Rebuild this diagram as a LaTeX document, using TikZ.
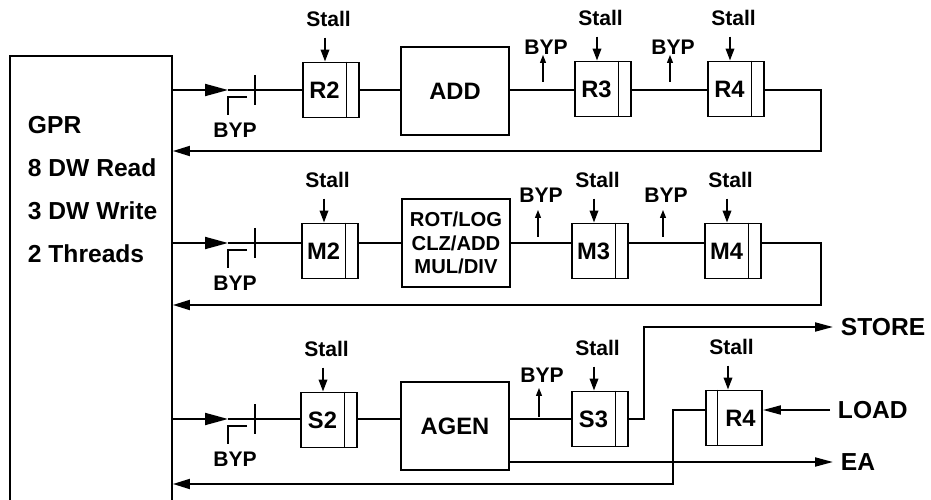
\documentclass[tikz,border=0pt]{standalone}
\usepackage{fontspec}
\setmainfont{Liberation Sans}
\usetikzlibrary{arrows.meta,calc,positioning}
\newcommand{\dvw}{0.26cm}

\begin{document}
\begin{tikzpicture}[x=0.02cm,y=-0.02cm,line width=1.1pt,
  reg/.style={draw,minimum width=1.12cm,minimum height=1.1cm,inner sep=0pt,font=\fontsize{13.5}{15}\selectfont\bfseries},
  unit/.style={draw,minimum width=2.16cm,minimum height=1.76cm,inner sep=0pt,align=center,font=\fontsize{13.5}{15}\selectfont\bfseries},
  lbl/.style={inner sep=0pt,font=\fontsize{12}{13}\selectfont\bfseries},
  byplbl/.style={inner sep=0pt,font=\fontsize{12}{13}\selectfont\bfseries},
  io/.style={anchor=west,inner xsep=4pt,inner ysep=0pt,font=\fontsize{14}{16}\selectfont\bfseries},
  inarr/.style={-{Triangle[length=0.46cm,width=0.24cm]}},
  retarr/.style={-{Triangle[length=0.34cm,width=0.2cm]}},
  outarr/.style={-{Triangle[length=0.36cm,width=0.18cm]}},
  stallarr/.style={-{Triangle[length=0.24cm,width=0.17cm]}},
  byparr/.style={line width=0.7pt,-{Triangle[length=0.16cm,width=0.12cm]}}]
\useasboundingbox (0,0) rectangle (931,500);

% register file
\node[draw,minimum width=3.24cm,minimum height=8.98cm,inner sep=0pt] (gpr) at (91,280.5) {};
\foreach \txt [count=\k] in {GPR,8 DW Read,3 DW Write,2 Threads}
  \node[anchor=base west,inner sep=0pt,font=\fontsize{14}{16}\selectfont\bfseries] (g\k) at (27,91+43*\k) {\txt};

\coordinate (l1) at (0,90);
\coordinate (l2) at (0,243);
\coordinate (l3) at (0,419);

% stages
\node[reg] (r2) at (331,90) {R2\hspace*{\dvw}};
\node[unit] (add) at (455,91) {ADD};
\node[reg] (r3) at (603,89) {R3\hspace*{\dvw}};
\node[reg] (r4) at (736,89) {R4\hspace*{\dvw}};

\node[reg] (m2) at (330,251) {M2\hspace*{\dvw}};
\node[unit,font=\fontsize{11.5}{13.4}\selectfont\bfseries] (alu) at (456,243) {ROT/LOG\\CLZ/ADD\\MUL/DIV};
\node[reg] (m3) at (600,251) {M3\hspace*{\dvw}};
\node[reg] (m4) at (733,251) {M4\hspace*{\dvw}};

\node[reg] (s2) at (329,420) {S2\hspace*{\dvw}};
\node[unit] (agen) at (455,426) {AGEN};
\node[reg] (s3) at (600,419) {S3\hspace*{\dvw}};
\node[reg] (ld) at (734,418) {\hspace*{\dvw}R4};

\node[io] (store) at (833,327) {STORE};
\node[io] (load) at (830,410) {LOAD};
\node[io] (ea) at (833,462) {EA};

\foreach \rg in {r2,r3,r4,m2,m3,m4,s2,s3}
  \draw[line width=0.6pt] ($(\rg.north east)+(-13,0)$) -- ($(\rg.south east)+(-13,0)$);
\draw[line width=0.6pt] ($(ld.north west)+(12,0)$) -- ($(ld.south west)+(12,0)$);

% inputs from GPR
\foreach \y/\rg in {90/r2,243/m2,419/s2}{
  \draw[inarr] (gpr.east |- 0,\y) -- (228,\y);
  \draw (228,\y) -- (\rg.west |- 0,\y);
  \draw (255,\y-15) -- (255,\y+15);
  \draw (247,\y+7) -- (228,\y+7) -- (228,\y+25);
  \node[byplbl] (b\rg) at (235,\y+40) {BYP};
}

% row 1
\draw (r2.east |- l1) -- (add.west |- l1) (add.east |- l1) -- (r3.west |- l1)
      (r3.east |- l1) -- (r4.west |- l1);
\draw[retarr] (r4.east |- l1) -| (821,151) -- (gpr.east |- 0,151);

% row 2
\draw (m2.east |- l2) -- (alu.west |- l2) (alu.east |- l2) -- (m3.west |- l2)
      (m3.east |- l2) -- (m4.west |- l2);
\draw[retarr] (m4.east |- l2) -| (821,305) -- (gpr.east |- 0,305);

% row 3
\draw (s2.east |- l3) -- (agen.west |- l3) (agen.east |- l3) -- (s3.west |- l3);
\draw[outarr] (s3.east |- l3) -| (644,327) -- (store.west);
\draw[outarr] (agen.east |- 0,462) -- (ea.west);
\draw[outarr] (load.west) -- (ld.east |- load.west);
\draw[retarr] (ld.west |- load.west) -| (673,484) -- (gpr.east |- 0,484);

% bypass taps
\foreach \x/\ya/\yb/\yt [count=\k] in {543/82/55/47,670/82/55/47,538/237/210/195,663/237/210/195,539/417/388/375}{
  \node[byplbl] (by\k) at (\x+3,\yt) {BYP};
  \draw[byparr] (\x,\ya) -- (\x,\yb);
}

% stall inputs
\foreach \rg in {r2,r3,r4,m2,m3,m4,s2,s3,ld}{
  \coordinate (sa\rg) at ($(\rg.north)+(-6,-24)$);
  \node[lbl,above=5.5pt of sa\rg,xshift=2pt] (st\rg) {Stall};
  \draw[stallarr] (sa\rg) -- (sa\rg |- \rg.north);
}

\end{tikzpicture}
\end{document}
